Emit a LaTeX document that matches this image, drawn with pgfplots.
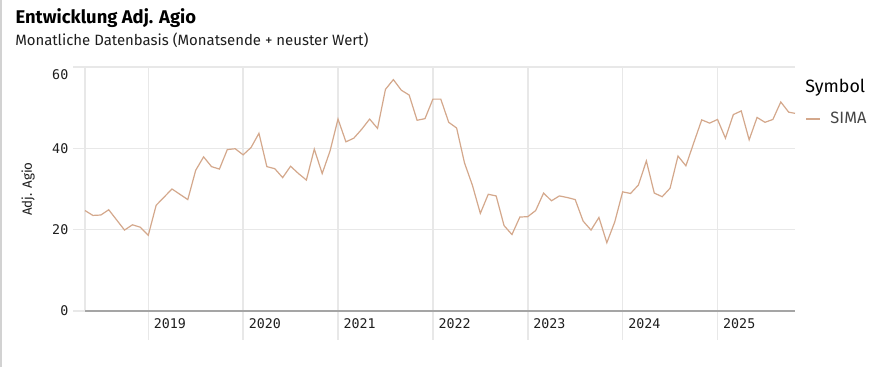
\documentclass[border=0pt]{standalone}
\usepackage{fontspec}
\setmainfont{Fira Sans}
\setmonofont{DejaVu Sans Mono}
\usepackage{pgfplots}
\pgfplotsset{compat=1.18}
\definecolor{linec}{RGB}{212,168,140}
\definecolor{gridc}{RGB}{232,232,232}
\definecolor{axisc}{RGB}{165,165,165}
\definecolor{legtext}{RGB}{70,70,70}
\definecolor{txt}{RGB}{30,30,30}
\begin{document}
\begin{tikzpicture}
\path[use as bounding box] (0,0) rectangle (665.25pt,275.25pt);
\fill[white] (0,0) rectangle (665.25pt,275.25pt);
\draw[gray!35, line width=1.2pt] (0.6pt,0) -- (0.6pt,275.25pt);
\node[anchor=base west, inner sep=0pt, font=\fontsize{13.8}{16}\selectfont\bfseries, text=black] at (11.5pt,257.25pt) {Entwicklung Adj. Agio};
\node[anchor=base west, inner sep=0pt, font=\fontsize{11.2}{13}\selectfont, text=txt] at (11.25pt,240.75pt) {Monatliche Datenbasis (Monatsende + neuster Wert)};
\node[anchor=base west, inner sep=0pt, font=\fontsize{13.4}{15}\selectfont, text=black] at (603.75pt,206pt) {Symbol};
\begin{axis}[
  at={(63.75pt,42pt)}, anchor=south west, scale only axis,
  width=532.5pt, height=183pt,
  xmin=4, xmax=93.8, ymin=0, ymax=60,
  xtick={12,24,36,48,60,72,84},
  xticklabels={2019,2020,2021,2022,2023,2024,2025},
  ytick={0,20,40,60},
  yticklabels={0,20,40,},
  extra y ticks={60}, extra y tick labels={60},
  extra y tick style={grid=none, yticklabel style={yshift=-6pt}},
  grid=major, grid style={gridc, line width=1.1pt},
  major tick length=0pt, tick style={draw=none},
  axis line style={draw=none},
  ticklabel style={font=\ttfamily\fontsize{10}{12}\selectfont, text=txt},
  xticklabel style={anchor=north west, xshift=0.7pt, yshift=-2.2pt},
  yticklabel style={xshift=-9pt},
  clip=false,
  ylabel={Adj. Agio},
  every axis y label/.style={at={(rel axis cs:0,0.5)}, rotate=90, anchor=center, yshift=42.75pt, font=\fontsize{10}{12}\selectfont, text=txt},
  legend style={at={(rel axis cs:1.0141,0.787)}, anchor=west, draw=none, fill=none, inner sep=0pt, outer sep=0pt, font=\fontsize{12.3}{14}\selectfont, text=legtext, /tikz/every odd column/.append style={column sep=5pt}},
  legend image code/.code={\draw[#1, line width=1.6pt] (0pt,0pt) -- (10.5pt,0pt);},
]
\draw[gridc, line width=1.1pt] (rel axis cs:0,0) -- (rel axis cs:0,1);
\pgfplotsinvokeforeach{12,24,36,48,60,72,84}{
  \draw[gridc, line width=1.1pt] (axis cs:#1,0) -- ++(0pt,-21.75pt);
}
\pgfplotsinvokeforeach{0,20,40,60}{
  \draw[gridc, line width=1.1pt] (axis cs:4,#1) -- ++(-9pt,0pt);
}
\addplot[linec, line width=0.9pt] coordinates {
(4,24.7) (5,23.5) (6,23.6) (7,24.9) (8,22.4) (9,19.9) (10,21.2) (11,20.6)
(12,18.6) (13,26.0) (14,28.0) (15,30.0) (16,28.7) (17,27.4) (18,34.6) (19,37.9)
(20,35.5) (21,34.9) (22,39.7) (23,39.9) (24,38.4) (25,40.2) (26,43.7) (27,35.5)
(28,35.0) (29,32.8) (30,35.6) (31,33.8) (32,32.2) (33,39.8) (34,33.8) (35,39.4)
(36,47.2) (37,41.6) (38,42.5) (39,44.7) (40,47.2) (41,44.9) (42,54.5) (43,56.9)
(44,54.3) (45,53.1) (46,46.9) (47,47.3) (48,52.1) (49,52.1) (50,46.4) (51,45.0)
(52,36.4) (53,30.9) (54,24.0) (55,28.7) (56,28.3) (57,21.0) (58,18.8) (59,23.1)
(60,23.2) (61,24.7) (62,29.0) (63,27.1) (64,28.3) (65,27.9) (66,27.4) (67,22.1)
(68,19.9) (69,23.0) (70,16.8) (71,21.9) (72,29.3) (73,28.9) (74,31.0) (75,36.9)
(76,29.0) (77,28.1) (78,30.2) (79,38.1) (80,35.7) (81,41.4) (82,47.0) (83,46.2)
(84,47.1) (85,42.5) (86,48.3) (87,49.2) (88,42.1) (89,47.6) (90,46.4) (91,47.1)
(92,51.4) (93,48.9) (93.8,48.6)
};
\addlegendentry{SIMA}
\draw[axisc, line width=1.1pt] (rel axis cs:0,0) -- (rel axis cs:1,0);
\end{axis}
\end{tikzpicture}
\end{document}
